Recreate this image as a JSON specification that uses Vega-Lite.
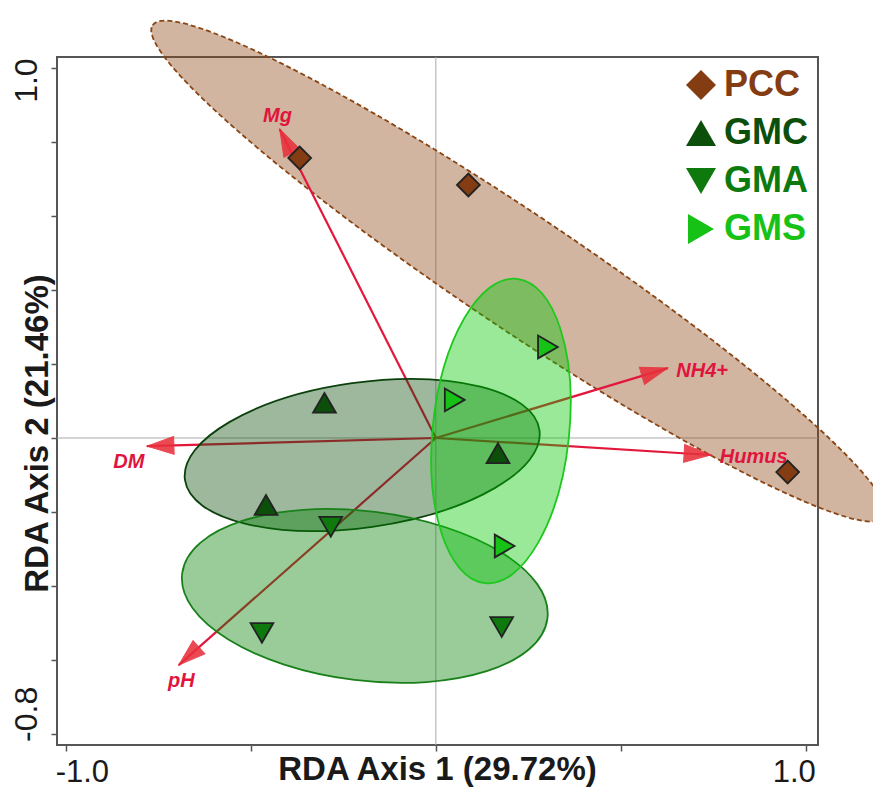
{
  "$schema": "https://vega.github.io/schema/vega-lite/v6.json",
  "width": 761,
  "height": 688,
  "autosize": {"type": "none"},
  "padding": {"left": 57, "top": 57, "right": 55, "bottom": 42},
  "background": "white",
  "config": {
    "view": {"stroke": "#555555", "strokeWidth": 2},
    "font": "Liberation Sans"
  },
  "datasets": {
    "samples": [
      {"group": "PCC", "x": -0.368, "y": 0.757},
      {"group": "PCC", "x": 0.088, "y": 0.684},
      {"group": "PCC", "x": 0.951, "y": -0.092},
      {"group": "GMC", "x": -0.301, "y": 0.095},
      {"group": "GMC", "x": -0.459, "y": -0.181},
      {"group": "GMC", "x": 0.168, "y": -0.041},
      {"group": "GMA", "x": -0.284, "y": -0.240},
      {"group": "GMA", "x": -0.470, "y": -0.527},
      {"group": "GMA", "x": 0.178, "y": -0.511},
      {"group": "GMS", "x": 0.303, "y": 0.246},
      {"group": "GMS", "x": 0.051, "y": 0.103},
      {"group": "GMS", "x": 0.186, "y": -0.292}
    ],
    "arrows": [
      {"var": "Mg", "x": -0.422, "y": 0.835, "x0": 0, "y0": 0, "lx": -0.428, "ly": 0.854},
      {"var": "NH4+", "x": 0.627, "y": 0.189, "x0": 0, "y0": 0, "lx": 0.720, "ly": 0.165},
      {"var": "Humus", "x": 0.744, "y": -0.046, "x0": 0, "y0": 0, "lx": 0.859, "ly": -0.068},
      {"var": "DM", "x": -0.781, "y": -0.022, "x0": 0, "y0": 0, "lx": -0.830, "ly": -0.081},
      {"var": "pH", "x": -0.695, "y": -0.614, "x0": 0, "y0": 0, "lx": -0.688, "ly": -0.673}
    ],
    "centers": [
      {"group": "PCC", "x": 0.224, "y": 0.451},
      {"group": "GMC", "x": -0.199, "y": -0.046},
      {"group": "GMA", "x": -0.192, "y": -0.427},
      {"group": "GMS", "x": 0.176, "y": 0.019}
    ]
  },
  "layer": [
    {
      "data": {"name": "samples"},
      "mark": {"type": "point", "opacity": 0, "size": 1},
      "encoding": {
        "x": {
          "field": "x", "type": "quantitative",
          "scale": {"domain": [-1.024, 1.033], "nice": false, "zero": false},
          "axis": {
            "title": "RDA Axis 1 (29.72%)",
            "values": [-1, -0.5, 0, 0.5, 1],
            "labelExpr": "datum.value == -1 ? '-1.0' : (datum.value == 1 ? '1.0' : '')",
            "grid": false, "domain": false,
            "tickColor": "#555555", "tickWidth": 1.5, "tickSize": 6,
            "labelFont": "Liberation Sans", "labelFontSize": 31, "labelColor": "#1a1a1a",
            "labelBaseline": "alphabetic", "labelAlign": "center", "labelPadding": 30,
            "labelOffset": {"condition": {"test": "datum.value < 0", "value": 16}, "value": -12},
            "labelOverlap": false, "labelFlush": false,
            "titleFont": "Liberation Sans", "titleFontSize": 33, "titleFontWeight": "bold", "titleColor": "#1a1a1a",
            "titleX": 380, "titleY": 34, "titleBaseline": "alphabetic", "titleAlign": "center"
          }
        },
        "y": {
          "field": "y", "type": "quantitative",
          "scale": {"domain": [-0.830, 1.030], "nice": false, "zero": false},
          "axis": {
            "title": "RDA Axis 2 (21.46%)",
            "values": [-0.8, -0.6, -0.4, -0.2, 0, 0.2, 0.4, 0.6, 0.8, 1.0],
            "labelExpr": "datum.value == 1 ? '1.0' : (datum.value == -0.8 ? '-0.8' : '')",
            "grid": false, "domain": false,
            "tickColor": "#555555", "tickWidth": 1.5, "tickSize": 6,
            "labelFont": "Liberation Sans", "labelFontSize": 32, "labelColor": "#1a1a1a",
            "labelAngle": 270, "labelBaseline": "alphabetic", "labelAlign": "center", "labelPadding": 15,
            "labelOffset": {"condition": {"test": "datum.value > 0", "value": 12}, "value": -20},
            "labelOverlap": false, "labelFlush": false,
            "titleFont": "Liberation Sans", "titleFontSize": 33, "titleFontWeight": "bold", "titleColor": "#1a1a1a",
            "titleAngle": 270, "titleX": -10, "titleY": 376, "titleBaseline": "alphabetic", "titleAlign": "center"
          }
        }
      }
    },
    {
      "data": {"values": [{"v": 0}]},
      "mark": {"type": "rule", "color": "#aaaaaa", "strokeWidth": 1},
      "encoding": {
        "x": {"field": "v", "type": "quantitative", "scale": {"domain": [-1.024, 1.033], "nice": false, "zero": false}}
      }
    },
    {
      "data": {"values": [{"v": 0}]},
      "mark": {"type": "rule", "color": "#aaaaaa", "strokeWidth": 1},
      "encoding": {
        "y": {"field": "v", "type": "quantitative", "scale": {"domain": [-0.830, 1.030], "nice": false, "zero": false}}
      }
    },
    {
      "data": {"name": "centers"},
      "transform": [{"filter": "datum.group == 'PCC'"}],
      "mark": {"type": "point", "shape": "M -1 0 A 1 0.129 0 1 1 1 0 A 1 0.129 0 1 1 -1 0 Z", "size": 777924, "angle": 33.9, "filled": true, "fill": "#8b4513", "fillOpacity": 0.4, "stroke": "#8b4513", "strokeWidth": 1.8, "strokeDash": [5, 3], "opacity": 1},
      "encoding": {
        "x": {"field": "x", "type": "quantitative", "scale": {"domain": [-1.024, 1.033], "nice": false, "zero": false}},
        "y": {"field": "y", "type": "quantitative", "scale": {"domain": [-0.830, 1.030], "nice": false, "zero": false}}
      }
    },
    {
      "data": {"name": "arrows"},
      "mark": {"type": "rule", "color": "#e3173c", "strokeWidth": 2.2},
      "encoding": {
        "x": {"field": "x0", "type": "quantitative", "scale": {"domain": [-1.024, 1.033], "nice": false, "zero": false}},
        "y": {"field": "y0", "type": "quantitative", "scale": {"domain": [-0.830, 1.030], "nice": false, "zero": false}},
        "x2": {"field": "x"},
        "y2": {"field": "y"}
      }
    },
    {
      "data": {"name": "centers"},
      "transform": [{"filter": "datum.group == 'GMC'"}],
      "mark": {"type": "point", "shape": "M -1 0 A 1 0.405 0 1 1 1 0 A 1 0.405 0 1 1 -1 0 Z", "size": 128164, "angle": -8, "filled": true, "fill": "#0b4d0b", "fillOpacity": 0.4, "stroke": "#0b400b", "strokeWidth": 1.8, "opacity": 1},
      "encoding": {
        "x": {"field": "x", "type": "quantitative", "scale": {"domain": [-1.024, 1.033], "nice": false, "zero": false}},
        "y": {"field": "y", "type": "quantitative", "scale": {"domain": [-0.830, 1.030], "nice": false, "zero": false}}
      }
    },
    {
      "data": {"name": "centers"},
      "transform": [{"filter": "datum.group == 'GMA'"}],
      "mark": {"type": "point", "shape": "M -1 0 A 1 0.46 0 1 1 1 0 A 1 0.46 0 1 1 -1 0 Z", "size": 135424, "angle": 7, "filled": true, "fill": "#008000", "fillOpacity": 0.4, "stroke": "#1a801a", "strokeWidth": 1.8, "opacity": 1},
      "encoding": {
        "x": {"field": "x", "type": "quantitative", "scale": {"domain": [-1.024, 1.033], "nice": false, "zero": false}},
        "y": {"field": "y", "type": "quantitative", "scale": {"domain": [-0.830, 1.030], "nice": false, "zero": false}}
      }
    },
    {
      "data": {"name": "centers"},
      "transform": [{"filter": "datum.group == 'GMS'"}],
      "mark": {"type": "point", "shape": "M -1 0 A 1 0.446 0 1 1 1 0 A 1 0.446 0 1 1 -1 0 Z", "size": 93636, "angle": 96, "filled": true, "fill": "#00c800", "fillOpacity": 0.4, "stroke": "#1ec81e", "strokeWidth": 1.8, "opacity": 1},
      "encoding": {
        "x": {"field": "x", "type": "quantitative", "scale": {"domain": [-1.024, 1.033], "nice": false, "zero": false}},
        "y": {"field": "y", "type": "quantitative", "scale": {"domain": [-0.830, 1.030], "nice": false, "zero": false}}
      }
    },
    {
      "data": {"name": "arrows"},
      "transform": [{"calculate": "atan2(-datum.y, datum.x) * 180 / PI", "as": "ang"}],
      "mark": {"type": "point", "shape": "M 0 0 L -1 -0.33 L -1 0.33 Z", "size": 2916, "filled": true, "fill": "#e8303c", "stroke": "#e8303c", "strokeWidth": 1, "opacity": 0.88},
      "encoding": {
        "x": {"field": "x", "type": "quantitative", "scale": {"domain": [-1.024, 1.033], "nice": false, "zero": false}},
        "y": {"field": "y", "type": "quantitative", "scale": {"domain": [-0.830, 1.030], "nice": false, "zero": false}},
        "angle": {"field": "ang", "type": "quantitative", "scale": null}
      }
    },
    {
      "data": {"name": "arrows"},
      "mark": {"type": "text", "font": "Liberation Sans", "fontSize": 20, "fontWeight": "bold", "fontStyle": "italic", "color": "#e0143c", "align": "center", "baseline": "alphabetic"},
      "encoding": {
        "x": {"field": "lx", "type": "quantitative", "scale": {"domain": [-1.024, 1.033], "nice": false, "zero": false}},
        "y": {"field": "ly", "type": "quantitative", "scale": {"domain": [-0.830, 1.030], "nice": false, "zero": false}},
        "text": {"field": "var"}
      }
    },
    {
      "data": {"name": "samples"},
      "mark": {"type": "point", "filled": true, "size": 520, "stroke": "#222222", "strokeWidth": 1.8, "opacity": 1},
      "encoding": {
        "x": {"field": "x", "type": "quantitative", "scale": {"domain": [-1.024, 1.033], "nice": false, "zero": false}},
        "y": {"field": "y", "type": "quantitative", "scale": {"domain": [-0.830, 1.030], "nice": false, "zero": false}},
        "color": {
          "field": "group", "type": "nominal",
          "scale": {"domain": ["PCC", "GMC", "GMA", "GMS"], "range": ["#843c12", "#0b4f0b", "#0e7a0e", "#16c216"]},
          "legend": {
            "title": null, "orient": "top-right", "offset": 10, "padding": 0,
            "labelFont": "Liberation Sans", "labelFontSize": 36, "labelFontWeight": "bold",
            "labelColor": {"expr": "datum.value == 'PCC' ? '#843c12' : (datum.value == 'GMC' ? '#0b4f0b' : (datum.value == 'GMA' ? '#0e7a0e' : '#16c216'))"},
            "symbolSize": 900, "symbolStrokeWidth": 0, "symbolOpacity": 1,
            "rowPadding": 12, "labelOffset": 5
          }
        },
        "shape": {
          "field": "group", "type": "nominal",
          "scale": {"domain": ["PCC", "GMC", "GMA", "GMS"], "range": ["diamond", "triangle-up", "triangle-down", "triangle-right"]}
        }
      }
    }
  ]
}
